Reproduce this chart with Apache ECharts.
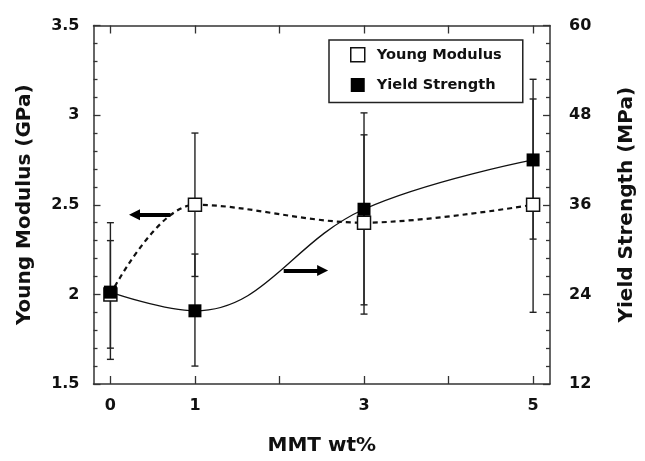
<!DOCTYPE html>
<html>
<head>
<meta charset="utf-8">
<script src="https://cdn.jsdelivr.net/npm/echarts@6/dist/echarts.min.js"></script>
<style>
  html, body { margin: 0; padding: 0; background: #fff; }
  #chart { width: 645px; height: 461px; }
</style>
</head>
<body>
<div id="chart"></div>
<script>
// ---- data ----
const mmt = [0, 1, 3, 5];
const youngModulus = [2.0, 2.5, 2.4, 2.5];        // GPa (left axis)
const yieldStrength = [24.3, 21.8, 35.4, 42.0];   // MPa (right axis)
const ymErrLow = [1.7, 2.1, 1.89, 1.9];
const ymErrHigh = [2.3, 2.9, 2.89, 3.09];
const ysErrLow = [15.3, 14.4, 22.6, 31.4];
const ysErrHigh = [33.6, 29.4, 48.3, 52.8];
const xTickValues = [0, 1, 2, 3, 4, 5];
const xLabelValues = [0, 1, 3, 5];
// annotation arrows (data coords): [x from, x to, y]
const arrowLeft = [0.71, 0.285, 2.444];   // points to left axis
const arrowRight = [2.05, 2.51, 27.2];    // points to right axis

const FONT = 'DejaVu Sans';
const INK = '#111';

const chart = echarts.init(document.getElementById('chart'), null, { renderer: 'canvas' });

function errRender(params, api) {
  const x = api.value(0);
  const lo = api.coord([x, api.value(1)]);
  const hi = api.coord([x, api.value(2)]);
  const cw = 3.5;
  const style = { stroke: '#222', lineWidth: 1.4 };
  return {
    type: 'group',
    children: [
      { type: 'line', shape: { x1: lo[0], y1: lo[1], x2: hi[0], y2: hi[1] }, style },
      { type: 'line', shape: { x1: lo[0] - cw, y1: lo[1], x2: lo[0] + cw, y2: lo[1] }, style },
      { type: 'line', shape: { x1: hi[0] - cw, y1: hi[1], x2: hi[0] + cw, y2: hi[1] }, style }
    ]
  };
}

const axisLineStyle = { color: '#333', width: 1.5 };
const tickLine = { color: '#333', width: 1.3 };
const labelStyle = { fontFamily: FONT, fontWeight: 'bold', fontSize: 16, color: INK };
const nameStyle = { fontFamily: FONT, fontWeight: 'bold', fontSize: 20, color: INK };

const option = {
  animation: false,
  backgroundColor: '#fff',
  grid: { left: 93.5, right: 91.5, top: 25.5, bottom: 69.5 },
  legend: {
    left: 329, top: 40,
    orient: 'vertical',
    padding: [7, 21, 10, 21],
    itemGap: 15,
    itemWidth: 14, itemHeight: 14,
    borderColor: '#222', borderWidth: 1.5,
    textStyle: { fontFamily: FONT, fontWeight: 'bold', fontSize: 14.6, color: INK, padding: [0, 0, 0, 7] },
    data: [
      { name: 'Young Modulus', icon: 'rect', itemStyle: { color: '#fff', borderColor: '#111', borderWidth: 1.5 } },
      { name: 'Yield Strength', icon: 'rect', itemStyle: { color: '#000', borderWidth: 0 } }
    ]
  },
  xAxis: [
    {
      type: 'value', position: 'bottom', min: -0.2, max: 5.2,
      axisLine: { show: true, onZero: false, lineStyle: axisLineStyle },
      axisTick: { show: true, inside: true, length: 8, customValues: xTickValues, lineStyle: tickLine },
      axisLabel: { customValues: xLabelValues, margin: 14, ...labelStyle },
      splitLine: { show: false },
      name: 'MMT wt%', nameLocation: 'middle', nameGap: 52, nameTextStyle: nameStyle
    },
    {
      type: 'value', position: 'top', min: -0.2, max: 5.2,
      axisLine: { show: true, onZero: false, lineStyle: axisLineStyle },
      axisTick: { show: true, inside: true, length: 8, customValues: xTickValues, lineStyle: tickLine },
      axisLabel: { show: false },
      splitLine: { show: false }
    }
  ],
  yAxis: [
    {
      type: 'value', position: 'left', min: 1.5, max: 3.5, interval: 0.5,
      axisLine: { show: true, onZero: false, lineStyle: axisLineStyle },
      axisTick: { show: true, inside: true, length: 7, lineStyle: tickLine },
      minorTick: { show: true, splitNumber: 5, length: 4, lineStyle: tickLine },
      axisLabel: { margin: 14, ...labelStyle },
      splitLine: { show: false },
      name: 'Young Modulus (GPa)', nameLocation: 'middle', nameGap: 59, nameRotate: 90, nameTextStyle: nameStyle
    },
    {
      type: 'value', position: 'right', min: 12, max: 60, interval: 12,
      axisLine: { show: true, onZero: false, lineStyle: axisLineStyle },
      axisTick: { show: true, inside: true, length: 7, lineStyle: tickLine },
      minorTick: { show: true, splitNumber: 5, length: 4, lineStyle: tickLine },
      axisLabel: { margin: 19, ...labelStyle },
      splitLine: { show: false },
      name: 'Yield Strength (MPa)', nameLocation: 'middle', nameGap: 67, nameRotate: 90, nameTextStyle: nameStyle
    }
  ],
  series: [
    {
      name: 'YM error', type: 'custom', xAxisIndex: 0, yAxisIndex: 0, z: 2, silent: true,
      renderItem: errRender,
      data: mmt.map((x, i) => [x, ymErrLow[i], ymErrHigh[i]])
    },
    {
      name: 'YS error', type: 'custom', xAxisIndex: 0, yAxisIndex: 1, z: 2, silent: true,
      renderItem: errRender,
      data: mmt.map((x, i) => [x, ysErrLow[i], ysErrHigh[i]])
    },
    {
      name: 'Young Modulus', type: 'line', xAxisIndex: 0, yAxisIndex: 0, z: 3,
      data: mmt.map((x, i) => [x, youngModulus[i]]),
      smooth: 0.35,
      symbol: 'rect', symbolSize: 13,
      lineStyle: { color: '#111', width: 2.2, type: [5, 4] },
      itemStyle: { color: '#fff', borderColor: '#111', borderWidth: 1.5 },
      markLine: {
        silent: true, symbol: ['none', 'triangle'], symbolSize: [11, 11],
        label: { show: false },
        lineStyle: { color: '#000', width: 3.8, type: 'solid' },
        data: [[{ coord: [arrowLeft[0], arrowLeft[2]] }, { coord: [arrowLeft[1], arrowLeft[2]] }]]
      }
    },
    {
      name: 'Yield Strength', type: 'line', xAxisIndex: 0, yAxisIndex: 1, z: 4,
      data: mmt.map((x, i) => [x, yieldStrength[i]]),
      smooth: 0.4,
      symbol: 'rect', symbolSize: 13,
      lineStyle: { color: '#111', width: 1.3 },
      itemStyle: { color: '#000' },
      markLine: {
        silent: true, symbol: ['none', 'triangle'], symbolSize: [11, 11],
        label: { show: false },
        lineStyle: { color: '#000', width: 3.8, type: 'solid' },
        data: [[{ coord: [arrowRight[0], arrowRight[2]] }, { coord: [arrowRight[1], arrowRight[2]] }]]
      }
    }
  ]
};

chart.setOption(option);
</script>
</body>
</html>
